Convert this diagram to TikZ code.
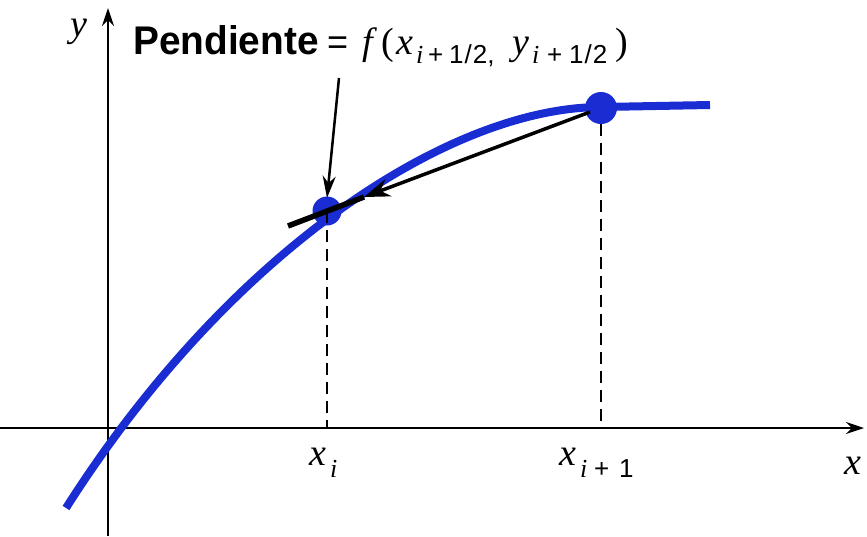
\documentclass[tikz,border=0pt]{standalone}
\usepackage{fontspec}
\setmainfont{Liberation Serif}
\setsansfont{Liberation Sans}
\usetikzlibrary{arrows.meta}
\definecolor{cblue}{RGB}{25,45,210}
\begin{document}
\begin{tikzpicture}[x=1pt,y=-1pt,
  axis/.style={line width=2.5pt,-{Stealth[length=18pt,width=12pt]}},
  curve/.style={cblue,line width=8pt},
  dashline/.style={line width=2.5pt,dash pattern=on 12pt off 7pt},
  dotnode/.style={circle,fill=cblue,inner sep=0pt,minimum size=#1},
  lbl/.style={font=\fontsize{38}{38}\selectfont\itshape,inner sep=0pt,anchor=base west},
  sub/.style={font=\fontsize{26}{26}\selectfont\sffamily,inner sep=0pt,anchor=base west},
  subi/.style={font=\fontsize{26}{26}\selectfont\itshape,inner sep=0pt,anchor=base west},
  mth/.style={font=\fontsize{38}{38}\selectfont,inner sep=0pt,anchor=base west}]
\useasboundingbox (0,0) rectangle (867,536);
% axes
\coordinate (xa0) at (0,428);
\coordinate (xa1) at (864,428);
\coordinate (ya0) at (108,536);
\coordinate (ya1) at (108,8);
\draw[axis] (xa0) -- (xa1);
\draw[axis] (ya0) -- (ya1);
% curve
\coordinate (c0) at (66,508);
\coordinate (c1) at (602,107);
\coordinate (c2) at (710,105);
\draw[curve] (c0) .. controls (230,250) and (450,107) .. (c1) -- (c2);
% dots
\node[dotnode=29pt] (p1) at (327,211) {};
\node[dotnode=32pt] (p2) at (601,108) {};
% dashed
\coordinate (d1) at (327,428);
\coordinate (d2) at (601,428);
\draw[dashline] (p1.center) -- (d1);
\draw[dashline] (p2.south) -- (d2);
% slope line
\coordinate (s0) at (288,226);
\coordinate (s1) at (590,112);
\coordinate (sm) at (364,197);
\draw[line width=3.5pt,-{Stealth[length=26pt,width=18pt]}] (s1) -- (sm);
\draw[line width=5.5pt] (sm) -- (s0);
% label arrow
\coordinate (a0) at (339,78);
\coordinate (a1) at (327,198);
\draw[line width=2.5pt,-{Stealth[length=22pt,width=13pt]}] (a0) -- (a1);
% axis labels
\node[lbl,anchor=center] (ylab) at (79,32) {y};
\node[lbl,anchor=center] (xlab) at (853,466) {x};
\node[lbl] (xi) at (309,465) {x};
\node[subi] (xis) at (330,477) {i};
\node[lbl] (xj) at (559,465) {x};
\node[subi] (xjs) at (580,477) {i};
\node[sub] (xjp) at (594,477) {+};
\node[sub] (xj1) at (619,477) {1};
% title
\node[inner sep=0pt,anchor=base west] (t1) at (133,54)
  {\scalebox{0.97}[1]{\fontsize{40}{40}\selectfont\sffamily\bfseries Pendiente}};
\node[mth,font=\fontsize{36}{36}\selectfont\sffamily] (t2) at (327,54) {=};
\node[mth,font=\fontsize{38}{38}\selectfont\itshape] (t3) at (362,54) {f};
\node[mth] (t4) at (381,54) {(};
\node[mth,font=\fontsize{38}{38}\selectfont\itshape] (t5) at (396,54) {x};
\node[subi] (t6) at (416,63) {i};
\node[sub] (t7) at (428,63) {+};
\node[sub] (t8) at (449,63) {1\hspace{1pt}/\hspace{1pt}2,};
\node[mth,font=\fontsize{38}{38}\selectfont\itshape] (t9) at (512,54) {y};
\node[subi] (t10) at (532,63) {i};
\node[sub] (t11) at (547,63) {+};
\node[sub] (t12) at (569,63) {1\hspace{1pt}/\hspace{1pt}2};
\node[mth] (t13) at (615,54) {)};
\end{tikzpicture}
\end{document}
